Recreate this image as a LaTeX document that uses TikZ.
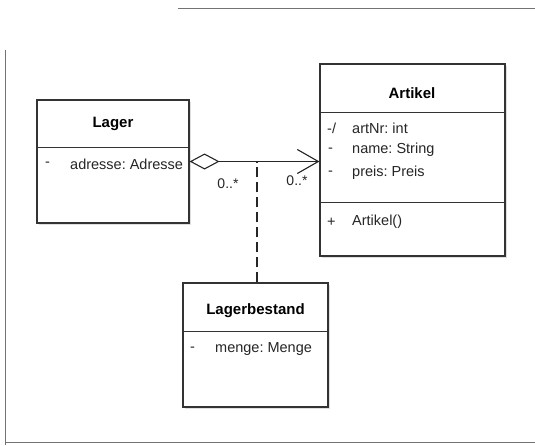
\documentclass[tikz,border=0pt]{standalone}
\usepackage{fontspec}
\setmainfont{Liberation Sans}
\usepackage{tikz}
\usetikzlibrary{positioning}
\usetikzlibrary{arrows.meta}
\usetikzlibrary{shadows}

\tikzset{
  classbox/.style={draw=black!80, line width=1.1pt, fill=white, inner sep=0pt,
    drop shadow={opacity=0.25, shadow xshift=2pt, shadow yshift=-2pt}},
  ctitle/.style={font=\bfseries\fontsize{15}{17}\selectfont},
  cattr/.style={anchor=west, inner sep=0pt, text=black!85, font=\fontsize{14.5}{17}\selectfont},
  frameline/.style={draw=black!55, line width=0.8pt}
}

\begin{document}
\begin{tikzpicture}[x=1pt,y=-1pt]

\useasboundingbox (0,0) rectangle (535,445);

% page frame
\draw[frameline] (178,8) -- (535,8);
\draw[frameline] (5,50) -- (5,445);
\draw[frameline] (5,442) -- (535,442);

% class Lager
\node[classbox, minimum width=152pt, minimum height=123pt] (lager) at (113,161.5) {};
\draw[black!80, line width=1pt] (37,147) -- (189,147);
\node[ctitle] (lagertitle) at (113,124) {Lager};
\node[cattr] (lagerv) at (45,164) {-};
\node[cattr] (lagera) at (70,164) {adresse:\ Adresse};

% class Artikel
\node[classbox, minimum width=185pt, minimum height=192pt] (artikel) at (412.5,160) {};
\draw[black!80, line width=1pt] (320,112) -- (505,112);
\draw[black!80, line width=1pt] (320,202) -- (505,202);
\node[ctitle] (artikeltitle) at (412,93) {Artikel};
\node[cattr] (artv1) at (327,128) {-/};
\node[cattr] (arta1) at (352,128) {artNr:\ int};
\node[cattr] (artv2) at (328,150) {-};
\node[cattr] (arta2) at (352,150) {name:\ String};
\node[cattr] (artv3) at (328,173) {-};
\node[cattr] (arta3) at (352,173) {preis:\ Preis};
\node[cattr] (artv4) at (327,222) {+};
\node[cattr] (arto1) at (352,222) {Artikel()};

% class Lagerbestand
\node[classbox, minimum width=145pt, minimum height=124pt] (bestand) at (255.5,345) {};
\draw[black!80, line width=1pt] (183,331) -- (328,331);
\node[ctitle] (bestandtitle) at (255.5,311) {Lagerbestand};
\node[cattr] (bestandv) at (190,349) {-};
\node[cattr] (bestanda) at (215,349) {menge:\ Menge};

% aggregation Lager -- Artikel
\draw[black!85, line width=1.1pt,
      {Diamond[open, length=30pt, width=16pt, line width=1.1pt]}-{Straight Barb[length=21pt, width=24pt, line width=1.1pt]}]
  (lager.east) -- (lager.east -| artikel.west);

% association class
\draw[black!85, line width=1.1pt, dash pattern=on 10pt off 5pt]
  (bestand.north -| 257,0) -- (257,161.5);

% multiplicities
\node[font=\fontsize{14}{16}\selectfont, text=black!85] (m1) at (228,184) {0..*};
\node[font=\fontsize{14}{16}\selectfont, text=black!85] (m2) at (297,181) {0..*};

\end{tikzpicture}
\end{document}
